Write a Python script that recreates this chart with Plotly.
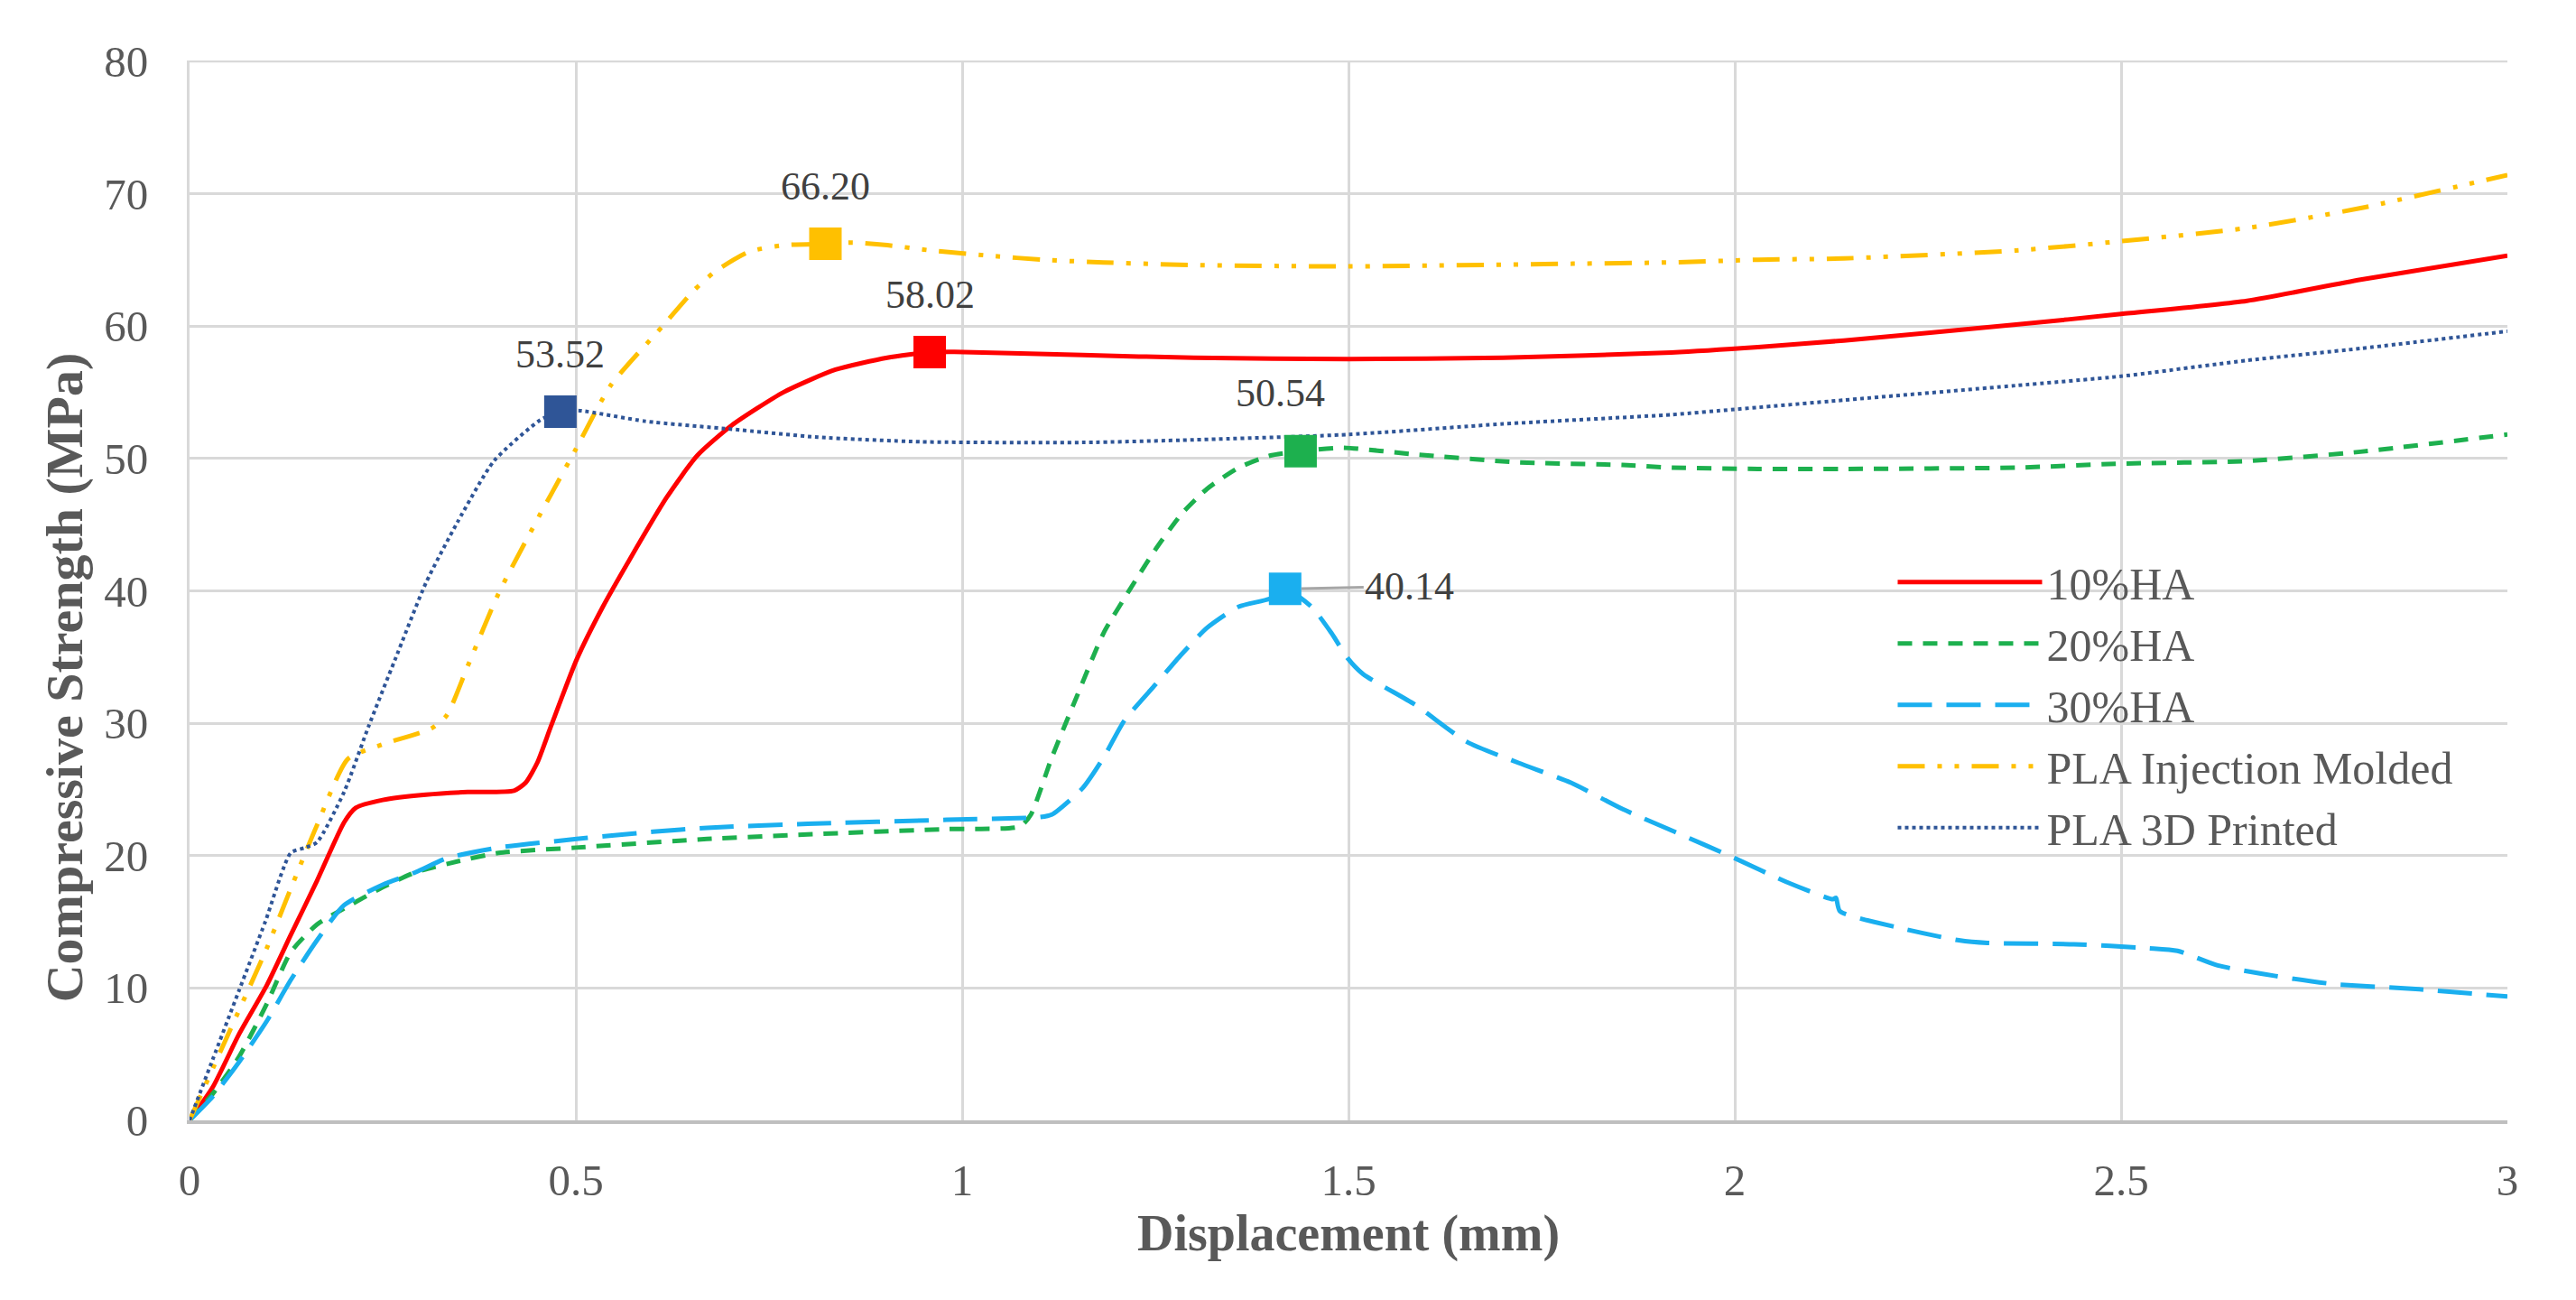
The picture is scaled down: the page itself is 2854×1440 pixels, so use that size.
import plotly.graph_objects as go

# displacement (mm) / compressive strength (MPa)
x10 = [0, 0.03, 0.064, 0.1, 0.131, 0.165, 0.2, 0.215, 0.25, 0.306, 0.36, 0.42, 0.435, 0.45, 0.468,
       0.501, 0.535, 0.569, 0.617, 0.657, 0.702, 0.769, 0.836, 0.903, 0.958, 0.99, 1.156, 1.3, 1.5,
       1.7, 1.918, 2.03, 2.141, 2.364, 2.5, 2.663, 2.81, 3.0]
y10 = [0, 2.5, 6.5, 10.2, 14, 18.1, 22.5, 23.6, 24.2, 24.6, 24.8, 24.9, 25.5, 27, 29.8,
       34.8, 38.8, 42.3, 47, 50.2, 52.5, 55, 56.7, 57.6, 58.02, 58.05, 57.8, 57.6, 57.5,
       57.6, 58.0, 58.4, 58.9, 60.1, 60.9, 61.9, 63.5, 65.3]

x20 = [0, 0.03, 0.064, 0.1, 0.131, 0.165, 0.2, 0.25, 0.293, 0.35, 0.4, 0.5, 0.67, 0.8, 0.98,
       1.075, 1.089, 1.116, 1.149, 1.183, 1.216, 1.25, 1.284, 1.317, 1.358, 1.398, 1.438, 1.492,
       1.586, 1.72, 1.855, 1.918, 2.03, 2.141, 2.364, 2.5, 2.663, 2.81, 3.0]
y20 = [0, 2.0, 4.8, 8.8, 12.7, 14.8, 16.0, 17.6, 18.75, 19.6, 20.2, 20.6, 21.25, 21.6, 22.0,
       22.2, 23.1, 27.4, 32.1, 36.8, 40.0, 43.1, 45.8, 47.7, 49.3, 50.2, 50.54, 50.8,
       50.3, 49.7, 49.5, 49.3, 49.2, 49.2, 49.3, 49.6, 49.8, 50.5, 51.8]

x30 = [0, 0.03, 0.064, 0.1, 0.131, 0.165, 0.2, 0.25, 0.293, 0.333, 0.4, 0.501, 0.6, 0.67, 0.8,
       0.98, 1.1, 1.116, 1.156, 1.183, 1.21, 1.25, 1.284, 1.317, 1.358, 1.398, 1.418, 1.452,
       1.478, 1.499, 1.519, 1.586, 1.653, 1.72, 1.788, 1.855, 1.922, 2.0, 2.067, 2.127, 2.131,
       2.136, 2.216, 2.29, 2.327, 2.439, 2.536, 2.573, 2.625, 2.7, 2.774, 2.886, 3.0]
y30 = [0, 1.8, 4.4, 7.5, 10.6, 13.6, 16.25, 17.8, 18.75, 19.8, 20.6, 21.25, 21.8, 22.1, 22.4,
       22.7, 22.9, 23.1, 25.1, 27.4, 30.2, 32.9, 35.2, 37.2, 38.8, 39.4, 40.14, 38.8,
       36.8, 34.9, 33.7, 31.4, 28.6, 27.0, 25.5, 23.5, 21.8, 19.8, 18.0, 16.7, 16.8,
       15.8, 14.5, 13.6, 13.4, 13.3, 13.0, 12.8, 11.7, 10.9, 10.3, 9.9, 9.35]

x_im = [0, 0.05, 0.1, 0.131, 0.165, 0.205, 0.25, 0.313, 0.333, 0.36, 0.4, 0.454, 0.47, 0.5,
        0.545, 0.6125, 0.653, 0.68, 0.724, 0.769, 0.823, 0.858, 0.903, 0.96, 1.037, 1.104,
        1.183, 1.3, 1.5, 1.79, 1.918, 2.03, 2.141, 2.364, 2.5, 2.663, 2.81, 3.0]
y_im = [0, 6.5, 13, 17.5, 22.3, 27.3, 28.4, 29.6, 30.6, 34.3, 39.8, 45.8, 47.5, 50.7,
        55.5, 60, 62.7, 64.1, 65.6, 66.1, 66.2, 66.3, 66.1, 65.7, 65.3, 65.0,
        64.8, 64.6, 64.5, 64.7, 64.8, 65.0, 65.1, 65.7, 66.4, 67.4, 68.9, 71.4]

x_3d = [0, 0.03, 0.064, 0.098, 0.131, 0.15, 0.165, 0.2, 0.232, 0.266, 0.306, 0.347, 0.394,
        0.454, 0.48, 0.505, 0.59, 0.702, 0.813, 0.947, 1.156, 1.3, 1.5, 1.7, 1.918, 2.0,
        2.141, 2.364, 2.5, 2.663, 2.81, 3.0]
y_3d = [0, 4.6, 9.8, 15.0, 20.2, 20.6, 21.0, 24.8, 29.8, 34.8, 40.6, 45.2, 49.8,
        52.9, 53.52, 53.6, 52.8, 52.2, 51.6, 51.25, 51.2, 51.4, 51.8, 52.6, 53.3, 53.7,
        54.4, 55.5, 56.2, 57.4, 58.3, 59.6]

names = ['10%HA', '20%HA', '30%HA', 'PLA Injection Molded', 'PLA 3D Printed']
xs = [x10, x20, x30, x_im, x_3d]
ys = [y10, y20, y30, y_im, y_3d]
colors = ['#FF0000', '#1DB04E', '#1AAFEF', '#FFC000', '#2F5597']
dashes = ['solid', '16px,12px', '38px,16px', '30px,14px,5px,14px,5px,14px', '4px,4px']
widths = [5, 5, 5, 5, 4]

# peak points with labels
peak_x = [0.958, 1.438, 1.418, 0.823, 0.48]
peak_y = [58.02, 50.54, 40.14, 66.20, 53.52]

y_ticks = [0, 10, 20, 30, 40, 50, 60, 70, 80]
x_ticks = [0, 0.5, 1, 1.5, 2, 2.5, 3]
x_ticktext = ['0', '0.5', '1', '1.5', '2', '2.5', '3']

grey = '#595959'
serif = 'Liberation Serif, Times New Roman, serif'

fig = go.Figure()

for i in range(len(names)):
    fig.add_trace(go.Scatter(
        x=xs[i], y=ys[i], name=names[i], mode='lines',
        line={'color': colors[i], 'width': widths[i], 'dash': dashes[i],
              'shape': 'spline', 'smoothing': 0.6}))

for i in range(len(names)):
    fig.add_trace(go.Scatter(
        x=[peak_x[i]], y=[peak_y[i]], mode='markers', showlegend=False,
        marker={'symbol': 'square', 'size': 36, 'color': colors[i]}))

label_font = {'family': serif, 'size': 44, 'color': '#404040'}
for i in range(len(names)):
    txt = '%.2f' % peak_y[i]
    if names[i] == '30%HA':
        fig.add_annotation(x=peak_x[i], y=peak_y[i], text=txt, font=label_font,
                           showarrow=True, arrowhead=0, arrowwidth=3, arrowcolor='#A6A6A6',
                           ax=138, ay=-3, standoff=18)
    else:
        xshift = -22 if names[i] == '20%HA' else 0
        fig.add_annotation(x=peak_x[i], y=peak_y[i], text=txt, font=label_font,
                           showarrow=False, yshift=64, xshift=xshift)

fig.add_annotation(
    xref='paper', yref='paper', x=0, y=0.418, xshift=-139,
    xanchor='center', yanchor='middle',
    text='<b>Compressive Strength (MPa)</b>', textangle=-90, showarrow=False,
    font={'family': serif, 'size': 58, 'color': grey})

# top gridline at the highest tick
fig.add_shape(type='line', xref='paper', yref='y', x0=0, x1=1,
              y0=y_ticks[-1], y1=y_ticks[-1], layer='below',
              line={'color': '#D9D9D9', 'width': 3})

fig.update_layout(
    width=2854,
    height=1440,
    margin={'l': 202, 'r': 84, 't': 59, 'b': 207},
    paper_bgcolor='white',
    plot_bgcolor='white',
    font={'family': serif, 'color': grey},
    legend={'x': 0.735, 'y': 0.541, 'xanchor': 'left', 'yanchor': 'top',
            'font': {'family': serif, 'size': 50, 'color': grey},
            'bgcolor': 'rgba(0,0,0,0)', 'itemwidth': 160},
    xaxis={'range': [0, 3], 'tickvals': x_ticks, 'ticktext': x_ticktext,
           'showgrid': True, 'gridcolor': '#D9D9D9', 'gridwidth': 3,
           'showline': True, 'linecolor': '#BFBFBF', 'linewidth': 4,
           'zeroline': False, 'ticks': '', 'ticklabelstandoff': 20,
           'tickfont': {'family': serif, 'size': 49, 'color': grey},
           'title': {'text': '<b>Displacement (mm)</b>', 'standoff': 13,
                     'font': {'family': serif, 'size': 56, 'color': grey}}},
    yaxis={'range': [0, 80.05], 'tickvals': y_ticks,
           'showgrid': True, 'gridcolor': '#D9D9D9', 'gridwidth': 3,
           'showline': True, 'linecolor': '#D9D9D9', 'linewidth': 3,
           'zeroline': False, 'ticks': '', 'ticklabelstandoff': 33,
           'tickfont': {'family': serif, 'size': 49, 'color': grey}},
)

fig.write_html('out.html')
